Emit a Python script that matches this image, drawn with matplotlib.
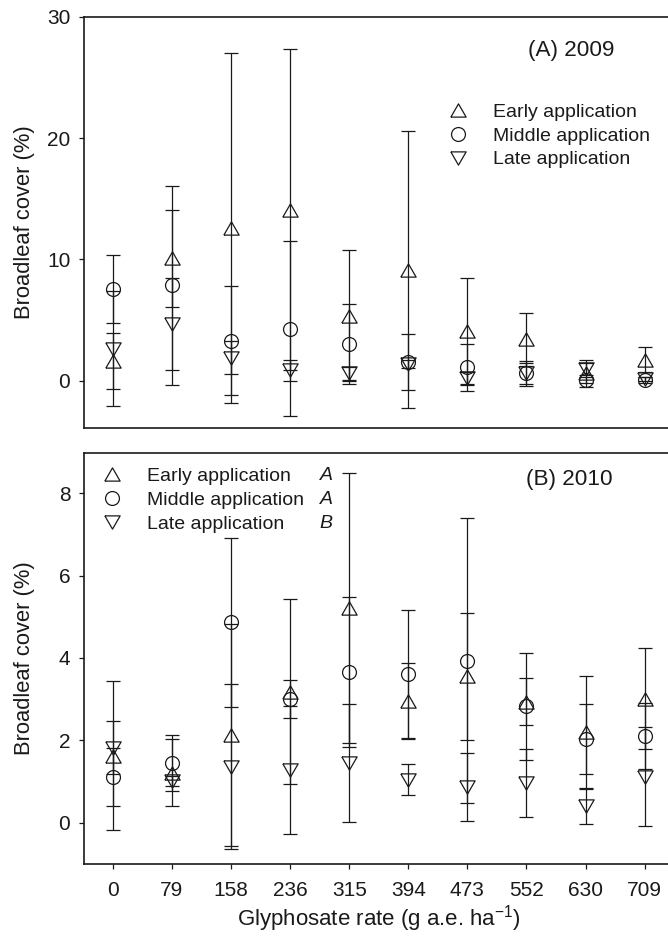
import numpy as np
import matplotlib
matplotlib.use("Agg")
import matplotlib.pyplot as plt
from matplotlib.lines import Line2D

plt.rcParams['font.family'] = ['Liberation Sans', 'DejaVu Sans']

# ---------------- data ----------------
rates = ['0', '79', '158', '236', '315', '394', '473', '552', '630', '709']

early_2009 = [1.65, 10.1, 12.6, 14.1, 5.35, 9.15, 4.1, 3.4, 0.6, 1.75]
early_2009_err = [2.3, 4.0, 14.4, 13.2, 5.4, 11.4, 4.4, 2.2, 1.1, 1.05]
middle_2009 = [7.55, 7.85, 3.3, 4.3, 3.05, 1.55, 1.1, 0.6, 0.06, 0.06]
middle_2009_err = [2.8, 8.2, 4.5, 7.2, 3.3, 2.3, 1.95, 1.0, 0.25, 0.27]
late_2009 = [2.65, 4.65, 1.9, 0.85, 0.6, 1.4, 0.2, 0.6, 0.96, 0.14]
late_2009_err = [4.75, 3.8, 1.35, 0.9, 0.5, 0.35, 0.55, 0.9, 0.5, 0.2]

early_2010 = [1.62, 1.21, 2.12, 3.18, 5.2, 2.95, 3.55, 2.93, 2.2, 3.01]
early_2010_err = [1.81, 0.81, 2.7, 2.25, 3.28, 0.93, 1.54, 0.57, 1.35, 1.23]
middle_2010 = [1.11, 1.44, 4.86, 3.0, 3.66, 3.61, 3.93, 2.83, 2.04, 2.1]
middle_2010_err = [0.71, 0.68, 2.06, 0.47, 1.83, 1.56, 3.46, 1.3, 0.85, 0.8]
late_2010 = [1.82, 1.01, 1.36, 1.28, 1.44, 1.04, 0.87, 0.96, 0.39, 1.11]
late_2010_err = [0.64, 0.12, 2.0, 1.56, 1.43, 0.37, 0.83, 0.82, 0.42, 1.2]

series_labels = ['Early application', 'Middle application', 'Late application']
letters_2010 = ['A', 'A', 'B']
panel_titles = ['(A) 2009', '(B) 2010']

# ---------------- style ----------------
INK = '#1a1a1a'
TRI_UP = [(-1, -0.866), (1, -0.866), (0, 0.866), (-1, -0.866)]
TRI_DN = [(-1, 0.866), (1, 0.866), (0, -0.866), (-1, 0.866)]
markers = [TRI_UP, 'o', TRI_DN]
msizes = [11, 10, 11]
FS = 15.8
LEG_FS = 14
TICK_FS = 15

fig = plt.figure(figsize=(6.68, 9.47), dpi=100)
ax1 = fig.add_axes([0.1257, 0.5477, 0.8826, 0.4347])
ax2 = fig.add_axes([0.1257, 0.0880, 0.8826, 0.4333])

x = np.arange(len(rates))


def draw(ax, means, errs):
    for m, e, mk, ms in zip(means, errs, markers, msizes):
        ax.errorbar(x, m, yerr=e, fmt='none', ecolor=INK, elinewidth=0.9,
                    capsize=4.8, capthick=0.9, zorder=2)
        ax.plot(x, m, linestyle='none', marker=mk, markersize=ms,
                mfc='none', mec=INK, mew=0.9, zorder=3)


def style(ax, ylim, yticks):
    ax.set_xlim(-0.49, 9.49)
    ax.set_ylim(*ylim)
    ax.set_yticks(yticks)
    ax.set_yticklabels([str(t) for t in yticks], fontsize=TICK_FS)
    for s in ax.spines.values():
        s.set_linewidth(1.2)
        s.set_color(INK)
    ax.tick_params(axis='y', direction='out', length=3.8, width=0.9,
                   pad=6, colors=INK)
    ax.set_ylabel('Broadleaf cover (%)', fontsize=FS, color=INK)
    ax.yaxis.set_label_coords(-0.083, 0.5)


draw(ax1, [early_2009, middle_2009, late_2009],
     [early_2009_err, middle_2009_err, late_2009_err])
draw(ax2, [early_2010, middle_2010, late_2010],
     [early_2010_err, middle_2010_err, late_2010_err])

style(ax1, (-3.92, 30), [0, 10, 20, 30])
style(ax2, (-1.0, 8.97), [0, 2, 4, 6, 8])

ax1.set_xticks([])
ax2.set_xticks(x)
ax2.set_xticklabels(rates, fontsize=TICK_FS)
ax2.tick_params(axis='x', direction='out', length=3.8, width=0.9, pad=9,
                colors=INK)
ax2.set_xlabel('Glyphosate rate (g a.e. ha$^{\\mathregular{-1}}$)',
               fontsize=16, color=INK)
ax2.xaxis.set_label_coords(0.5, -0.095)

ax1.text(0.826, 0.918, panel_titles[0], transform=ax1.transAxes,
         ha='center', va='center', fontsize=16.2, color=INK)
ax2.text(0.824, 0.937, panel_titles[1], transform=ax2.transAxes,
         ha='center', va='center', fontsize=16.2, color=INK)

handles = [Line2D([], [], linestyle='none', marker=mk, markersize=ms,
                  mfc='none', mec=INK, mew=0.9)
           for mk, ms in zip(markers, msizes)]

leg_kw = dict(frameon=False, fontsize=LEG_FS, handlelength=1.0,
              handletextpad=1.3, labelspacing=0.32, borderpad=0,
              borderaxespad=0, loc='upper left')
lg1 = ax1.legend(handles, series_labels, bbox_to_anchor=(0.618, 0.790), **leg_kw)
lg2 = ax2.legend(handles, series_labels, bbox_to_anchor=(0.031, 0.965), **leg_kw)
for lg in (lg1, lg2):
    for t in lg.get_texts():
        t.set_color(INK)

row_y = [0.947, 0.888, 0.830]
for yy, let in zip(row_y, letters_2010):
    ax2.text(0.400, yy, let, transform=ax2.transAxes, ha='left', va='center',
             fontsize=LEG_FS, fontstyle='italic', color=INK)

fig.savefig('out.png', dpi=100)
